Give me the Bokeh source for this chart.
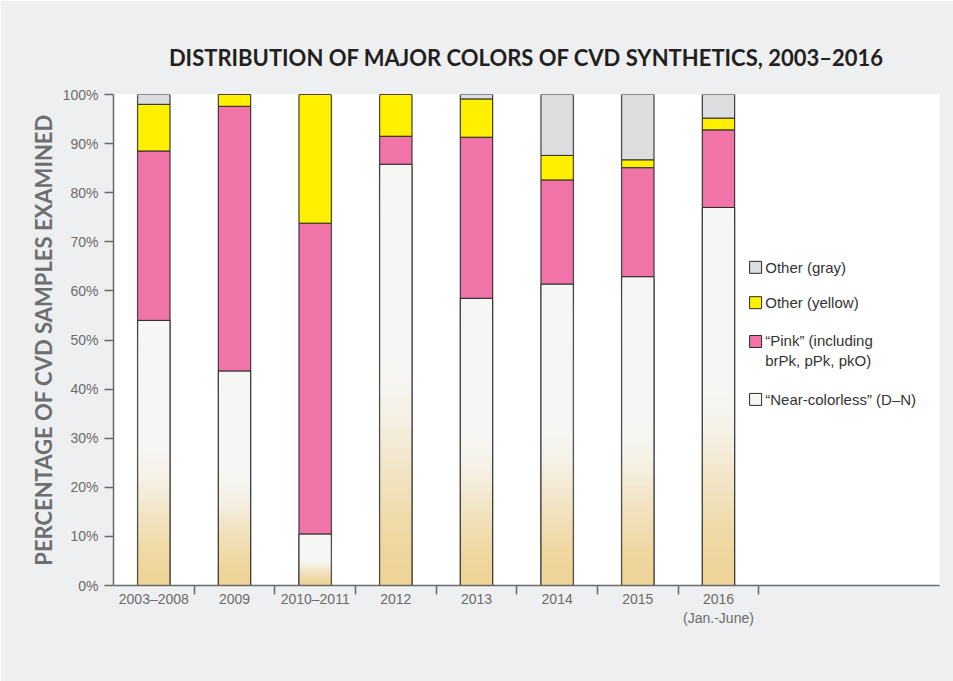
import numpy as np
from bokeh.plotting import figure
from bokeh.models import (ColumnDataSource, FixedTicker, PrintfTickFormatter,
                          Range1d, Title)
from bokeh.core.properties import value
from bokeh.embed import file_html
from bokeh.resources import INLINE

# ---- data (percent of CVD samples examined) ----
categories = ["2003–2008", "2009", "2010–2011", "2012", "2013", "2014", "2015",
              "2016\n(Jan.-June)"]
near_colorless = [54.0, 43.7, 10.5, 85.8, 58.5, 61.4, 62.9, 77.0]
pink = [34.5, 53.9, 63.3, 5.7, 32.8, 21.2, 22.2, 15.8]
yellow = [9.5, 2.4, 26.2, 8.5, 7.8, 5.0, 1.6, 2.4]
gray = [2.0, 0.0, 0.0, 0.0, 0.9, 12.4, 13.3, 4.8]
y_ticks = [0, 10, 20, 30, 40, 50, 60, 70, 80, 90, 100]
legend_labels = ["Other (gray)", "Other (yellow)",
                 "“Pink” (including\nbrPk, pPk, pkO)", "“Near-colorless” (D–N)"]

# ---- styles ----
PAGE_BG = "#eeeff1"
C_GRAY = "#dcdddf"
C_YELLOW = "#fff000"
C_PINK = "#f074a8"
C_NC = "#f6f6f4"
C_WHITE = (246, 246, 244)
C_TAN = (238, 212, 152)
EDGE = "#2b2b2b"
AXIS = "#6a6a6a"
BAR_W = 0.4

n = len(categories)
xs = np.arange(n) + 0.5
nc = np.array(near_colorless)
pk = np.array(pink)
yl = np.array(yellow)
gr = np.array(gray)
b_pink = nc
t_pink = nc + pk
t_yel = t_pink + yl
t_gray = t_yel + gr

p = figure(width=953, height=681, output_backend="svg", toolbar_location=None,
           x_range=Range1d(0, 10.24), y_range=Range1d(0, 100),
           min_border_left=113, min_border_top=94, min_border_right=14,
           min_border_bottom=96)
p.border_fill_color = PAGE_BG
p.background_fill_color = "white"
p.outline_line_color = None
p.grid.visible = False

# title
p.title = Title(text="DISTRIBUTION OF MAJOR COLORS OF CVD SYNTHETICS, 2003–2016",
                align="center", text_font="Lato", text_font_style="bold",
                text_font_size="22px", text_color="#231f20", standoff=47)

# subtle shadow around each bar
p.vbar(x=xs, width=BAR_W + 0.025, bottom=0, top=t_gray, fill_color="#9a9a9a",
       fill_alpha=0.35, line_color=None)

# near-colorless base
src_nc = ColumnDataSource(dict(x=xs, top=nc))
p.vbar(x="x", width=BAR_W, bottom=0, top="top", source=src_nc,
       fill_color=C_NC, line_color=EDGE, line_width=1)

# gradient inside near-colorless bars (tan at the bottom fading to white)
N = 40
gx, gtop, gcol = [], [], []
for xi, h in zip(xs, nc):
    for k in range(N, 0, -1):
        frac_mid = (k - 0.5) / N
        t = min(frac_mid / 0.55, 1.0)
        t = t * t * (3 - 2 * t)
        c = tuple(int(round(C_TAN[j] + (C_WHITE[j] - C_TAN[j]) * t)) for j in range(3))
        gx.append(xi)
        gtop.append(h * k / N)
        gcol.append("#%02x%02x%02x" % c)
p.vbar(x=gx, width=BAR_W, bottom=0, top=gtop, fill_color=gcol, line_color=None)
p.vbar(x=xs, width=BAR_W, bottom=0, top=nc, fill_alpha=0, line_color=EDGE, line_width=1)

p.vbar(x=xs, width=BAR_W, bottom=b_pink, top=t_pink, fill_color=C_PINK,
       line_color=EDGE, line_width=1)
p.vbar(x=xs, width=BAR_W, bottom=t_pink, top=t_yel, fill_color=C_YELLOW,
       line_color=EDGE, line_width=1)
p.vbar(x=xs, width=BAR_W, bottom=t_yel, top=t_gray, fill_color=C_GRAY,
       line_color=EDGE, line_width=1)

# axes
xa = p.xaxis[0]
xa.ticker = FixedTicker(ticks=list(xs), minor_ticks=list(np.arange(1, n + 1)))
xa.major_label_overrides = {float(x): c for x, c in zip(xs, categories)}
xa.major_tick_out = 0
xa.major_tick_in = 0
xa.minor_tick_out = 9
xa.minor_tick_in = 0
xa.minor_tick_line_color = AXIS
xa.minor_tick_line_width = 1.5
xa.major_label_standoff = -4
xa.major_label_text_font = "Liberation Sans"
xa.major_label_text_font_size = "14px"
xa.major_label_text_color = "#6b6b6b"
xa.axis_line_color = AXIS
xa.axis_line_width = 1.5

ya = p.yaxis[0]
ya.ticker = FixedTicker(ticks=y_ticks)
ya.formatter = PrintfTickFormatter(format="%d%%")
ya.minor_tick_line_color = None
ya.major_tick_out = 9
ya.major_tick_in = 0
ya.major_tick_line_color = AXIS
ya.major_tick_line_width = 1.5
ya.axis_line_color = AXIS
ya.axis_line_width = 1.5
ya.major_label_standoff = 6
ya.major_label_text_font = "Liberation Sans"
ya.major_label_text_font_size = "14px"
ya.major_label_text_color = "#6b6b6b"
ya.axis_label = "PERCENTAGE OF CVD SAMPLES EXAMINED"
ya.axis_label_text_font = "Lato"
ya.axis_label_text_font_style = "bold"
ya.axis_label_text_font_size = "22px"
ya.axis_label_text_color = "#6d6e70"
ya.axis_label_standoff = 3

# legend (drawn in the plot area, right of the bars)
leg_colors = [C_GRAY, C_YELLOW, C_PINK, C_NC]
leg_x = 7.96
leg_y = np.array([64.8, 57.6, 49.7, 37.9])
line_h_px = 18.0
px_per_unit = 491.0 / 100.0
n_lines = np.array([lab.count("\n") + 1 for lab in legend_labels])
text_y = leg_y - (n_lines - 1) * (line_h_px / 2) / px_per_unit
p.scatter(x=[leg_x] * 4, y=leg_y, marker="square", size=12,
          fill_color=leg_colors, line_color=EDGE, line_width=1)
p.text(x=[leg_x + 0.12] * 4, y=text_y, text=legend_labels,
       text_font=value("Liberation Sans"), text_font_size="15px",
       text_color="#333333", text_baseline="middle", text_align="left",
       text_line_height=1.2)

open("out.html", "w").write(file_html(p, INLINE))
